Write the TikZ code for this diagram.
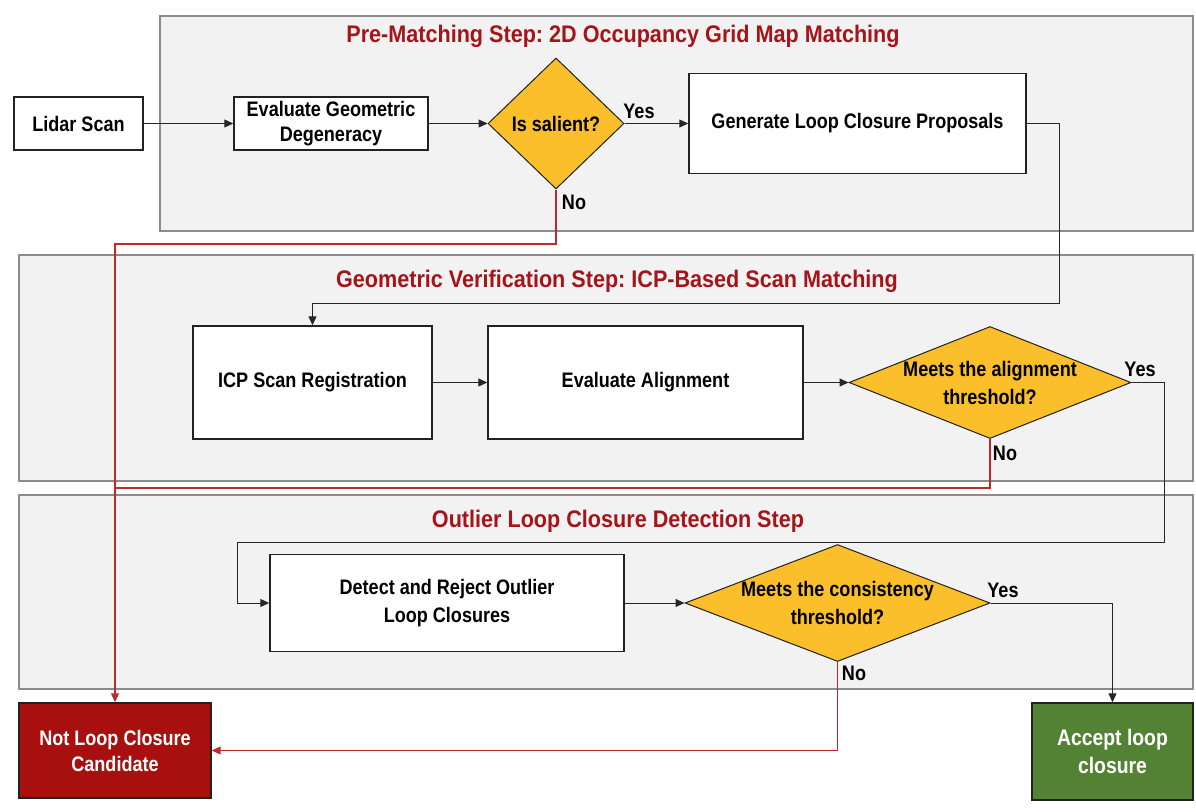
\documentclass[tikz,border=0pt]{standalone}
\usepackage{fontspec}
\setmainfont{Liberation Sans}[FakeStretch=0.86]
\newfontfamily\ttlfont{Liberation Sans}[FakeStretch=0.9]
\usetikzlibrary{shapes.geometric,arrows.meta,calc}
\definecolor{panelfill}{HTML}{F2F2F2}
\definecolor{panelline}{HTML}{8C8C8C}
\definecolor{boxline}{HTML}{222222}
\definecolor{decfill}{HTML}{FBBF2B}
\definecolor{titlered}{HTML}{A51419}
\definecolor{linered}{HTML}{C0282C}
\definecolor{notred}{HTML}{A81010}
\definecolor{accgreen}{HTML}{548235}
\newcommand\mylbl{\fontsize{21}{25}\selectfont\bfseries}
\newcommand\mylblw{\fontsize{21}{28}\selectfont\bfseries}
\newcommand\mybig{\fontsize{22.5}{28}\selectfont\bfseries}
\newcommand\myttl{\ttlfont\fontsize{24}{28}\selectfont\bfseries}
\frenchspacing
\begin{document}
\begin{tikzpicture}[x=1pt,y=-1pt,
  panel/.style={draw=panelline, fill=panelfill, line width=1.2pt},
  box/.style={rectangle, draw=boxline, fill=white, line width=1.4pt, inner sep=0pt, align=center, font=\mylbl},
  dec/.style={diamond, draw=boxline, fill=decfill, line width=1pt, inner sep=0pt},
  ttl/.style={font=\myttl, text=titlered, inner sep=0pt},
  yn/.style={font=\mylbl, inner sep=0pt},
  arr/.style={line width=1pt, draw=black!85, -{Triangle[length=9pt,width=8pt]}},
  rline/.style={line width=1.1pt, draw=linered},
  rarr/.style={rline, -{Triangle[length=9pt,width=8pt]}, color=linered},
]
\useasboundingbox (0,0) rectangle (1196,811);
% panels
\path[panel] (160,16) rectangle (1193,231);
\path[panel] (19,255) rectangle (1193,481);
\path[panel] (19,495) rectangle (1193,689);
% titles
\node[ttl] (t1) at (623,36) {Pre-Matching Step: 2D Occupancy Grid Map Matching};
\node[ttl] (t2) at (617,281) {Geometric Verification Step: ICP-Based Scan Matching};
\node[ttl] (t3) at (618,521) {Outlier Loop Closure Detection Step};
% row 1
\node[box, minimum width=129, minimum height=53] (lidar) at (78.5,123.5) {Lidar Scan};
\node[box, minimum width=194, minimum height=53] (evalg) at (331,123.5) {Evaluate Geometric\\Degeneracy};
\node[dec, minimum width=136, minimum height=131, label={[font=\mylbl]center:Is salient?}] (d1) at (556,123.5) {};
\node[box, minimum width=337, minimum height=100] (gen) at (857.5,123.5) {Generate Loop Closure Proposals};
% row 2
\node[box, minimum width=239, minimum height=113] (icp) at (312.5,382.5) {ICP Scan Registration};
\node[box, minimum width=315, minimum height=113] (evala) at (645.5,382.5) {Evaluate Alignment};
\node[dec, minimum width=282, minimum height=112, label={[font=\mylblw,align=center]center:{Meets the alignment\\threshold?}}] (d2) at (990,382.5) {};
% row 3
\node[box, font=\mylblw, minimum width=354, minimum height=97] (detect) at (447,603) {Detect and Reject Outlier\\Loop Closures};
\node[dec, minimum width=305, minimum height=117, label={[font=\mylblw,align=center]center:{Meets the consistency\\threshold?}}] (d3) at (837.5,603) {};
% outcomes
\node[box, fill=notred, text=white, font=\fontsize{21}{26}\selectfont\bfseries, minimum width=192, minimum height=95] (notloop) at (115,750.5) {Not Loop Closure\\Candidate};
\node[box, fill=accgreen, text=white, font=\mybig, minimum width=161, minimum height=97] (accept) at (1112.5,751.5) {Accept loop\\closure};
% black connectors
\draw[arr] (lidar.east) -- (evalg.west);
\draw[arr] (evalg.east) -- (d1.west);
\draw[arr] (d1.east) -- (gen.west);
\coordinate (c1) at (1059,303);
\draw[arr] (gen.east) -| (c1) -| (icp.north);
\draw[arr] (icp.east) -- (evala.west);
\draw[arr] (evala.east) -- (d2.west);
\coordinate (c2) at (1164,542);
\coordinate (c3) at (237,542);
\draw[arr] (d2.east) -| (c2) -- (c3) |- (detect.west);
\draw[arr] (detect.east) -- (d3.west);
\draw[arr] (d3.east) -| (accept.north);
% red connectors
\coordinate (r1) at (115,244);
\coordinate (r2) at (115,488);
\draw[rarr] (d1.south) |- (r1) -- (notloop.north);
\draw[rline] (d2.south) |- (r2);
\draw[rarr] (d3.south) |- (notloop.east);
% yes / no labels
\node[yn] (yes1) at (639,111) {Yes};
\node[yn] (no1) at (574,202) {No};
\node[yn] (yes2) at (1140,369) {Yes};
\node[yn] (no2) at (1005,453) {No};
\node[yn] (yes3) at (1003,590) {Yes};
\node[yn] (no3) at (854,673) {No};
\end{tikzpicture}
\end{document}
